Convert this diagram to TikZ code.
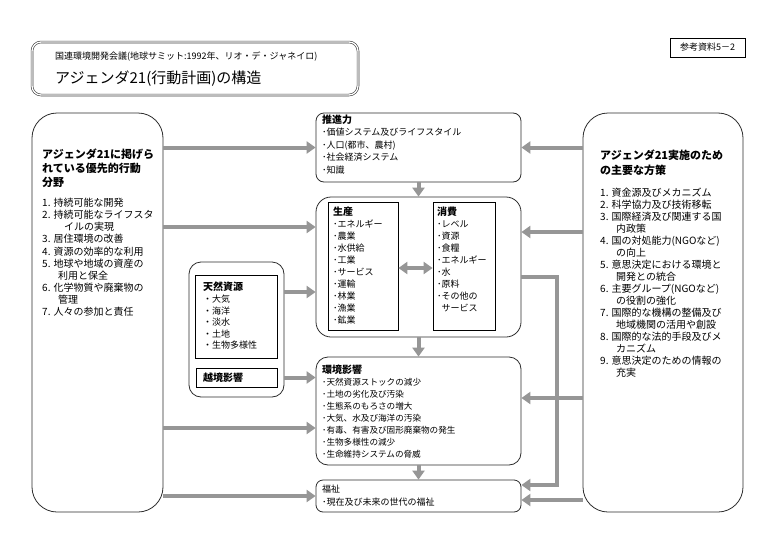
\documentclass[tikz,border=0pt]{standalone}
\usepackage{fontspec}
\setmainfont{Noto Sans CJK JP}
\usetikzlibrary{arrows.meta,positioning}
\definecolor{arrowgray}{RGB}{150,150,150}
\definecolor{boxline}{RGB}{45,45,45}

\begin{document}
\begin{tikzpicture}[x=1pt, y=-1pt,
  panel/.style={draw=boxline, line width=0.8pt, fill=white, rounded corners=#1,
                inner sep=0pt},
  panel/.default=8pt,
  inbox/.style={draw=black, line width=0.8pt, fill=white, inner sep=0pt},
  txt/.style={anchor=north west, align=left, inner sep=0pt},
  flow/.style={draw=arrowgray, line width=4pt, line join=miter,
               -{Triangle[length=9pt,width=12pt]}},
  both/.style={draw=arrowgray, line width=4pt,
               {Triangle[length=9pt,width=12pt]}-{Triangle[length=9pt,width=12pt]}}
]
  \useasboundingbox[fill=white] (0,0) rectangle (779,546);

  % header
  \node[draw=black!75, double=white, double distance=1.3pt, line width=0.6pt,
        rounded corners=9pt, minimum width=326pt, minimum height=53pt]
    (head) at (195,68.5) {};
  \node[anchor=west, inner sep=0pt, font=\fontsize{9}{11}\selectfont]
    (head1) at (55,57) {国連環境開発会議(地球サミット:1992年、リオ・デ・ジャネイロ)};
  \node[anchor=west, inner sep=0pt, font=\fontsize{15}{18}\selectfont]
    (head2) at (55,79) {アジェンダ21(行動計画)の構造};
  \node[draw=black, line width=0.8pt, minimum width=75pt, minimum height=19pt,
        inner sep=0pt, font=\fontsize{9}{11}\selectfont]
    (ref) at (707.5,47.5) {参考資料5－2};

  % boxes
  \node[panel=25pt, minimum width=131pt, minimum height=399pt] (agenda) at (97.5,312.5) {};
  \node[panel=25pt, minimum width=160pt, minimum height=399pt] (means) at (663,312.5) {};
  \node[panel=8pt, minimum width=205pt, minimum height=69pt] (drive) at (418.5,147.5) {};
  \node[panel=15pt, minimum width=205pt, minimum height=140pt] (pc) at (418.5,267) {};
  \node[inbox, minimum width=70pt, minimum height=128pt] (prod) at (363,266) {};
  \node[inbox, minimum width=62pt, minimum height=128pt] (cons) at (464,266) {};
  \node[panel=12pt, minimum width=95pt, minimum height=135pt] (natres) at (236.5,329.5) {};
  \node[inbox, minimum width=82pt, minimum height=83pt] (natin) at (236,316.5) {};
  \node[inbox, minimum width=81pt, minimum height=19pt] (trans) at (236.5,377.5) {};
  \node[panel=12pt, minimum width=205pt, minimum height=108pt] (env) at (418.5,411) {};
  \node[panel=7pt, minimum width=205pt, minimum height=32pt] (welfare) at (418.5,496) {};

  % texts
  \node[txt, font=\fontsize{11}{14}\selectfont\bfseries] (t0) at (42,149)
    {アジェンダ21に掲げら\\れている優先的行動\\分野};
  \node[txt, font=\fontsize{10}{12.1}\selectfont] (t1) at (42,198)
    {1. 持続可能な開発\\
     2. 持続可能なライフスタ\\\hspace*{2.2em}イルの実現\\
     3. 居住環境の改善\\
     4. 資源の効率的な利用\\
     5. 地球や地域の資産の\\\hspace*{1.6em}利用と保全\\
     6. 化学物質や廃棄物の\\\hspace*{1.6em}管理\\
     7. 人々の参加と責任};
  \node[txt, font=\fontsize{11}{15}\selectfont\bfseries] (t2) at (600,149.5)
    {アジェンダ21実施のため\\の主要な方策};
  \node[txt, font=\fontsize{10}{12}\selectfont] (t3) at (600,188)
    {1. 資金源及びメカニズム\\
     2. 科学協力及び技術移転\\
     3. 国際経済及び関連する国\\\hspace*{1.6em}内政策\\
     4. 国の対処能力(NGOなど)\\\hspace*{1.6em}の向上\\
     5. 意思決定における環境と\\\hspace*{1.6em}開発との統合\\
     6. 主要グループ(NGOなど)\\\hspace*{1.6em}の役割の強化\\
     7. 国際的な機構の整備及び\\\hspace*{1.6em}地域機関の活用や創設\\
     8. 国際的な法的手段及びメ\\\hspace*{1.6em}カニズム\\
     9. 意思決定のための情報の\\\hspace*{1.6em}充実};
  \node[txt, font=\fontsize{9}{12.5}\selectfont] (t4) at (322,114.5)
    {{\fontsize{10}{12}\selectfont\bfseries 推進力}\\
     ･価値システム及びライフスタイル\\
     ･人口(都市、農村)\\
     ･社会経済システム\\
     ･知識};
  \node[txt, font=\fontsize{9}{12}\selectfont] (t5) at (333,207)
    {{\fontsize{10}{12}\selectfont\bfseries 生産}\\
     ･エネルギー\\ ･農業\\ ･水供給\\ ･工業\\ ･サービス\\
     ･運輸\\ ･林業\\ ･漁業\\ ･鉱業};
  \node[txt, font=\fontsize{9}{12}\selectfont] (t6) at (437,207)
    {{\fontsize{10}{12}\selectfont\bfseries 消費}\\
     ･レベル\\ ･資源\\ ･食糧\\ ･エネルギー\\ ･水\\ ･原料\\
     ･その他の\\\hspace*{0.5em}サービス};
  \node[txt, font=\fontsize{9}{11.6}\selectfont] (t7) at (203,282)
    {{\fontsize{10}{12}\selectfont\bfseries 天然資源}\\
     ・大気\\ ・海洋\\ ・淡水\\ ・土地\\ ・生物多様性};
  \node[anchor=west, inner sep=0pt, font=\fontsize{10}{12}\selectfont\bfseries]
    (t8) at (203,378) {越境影響};
  \node[txt, font=\fontsize{8.6}{11.9}\selectfont] (t9) at (322,365)
    {{\fontsize{10}{12}\selectfont\bfseries 環境影響}\\
     ･天然資源ストックの減少\\
     ･土地の劣化及び汚染\\
     ･生態系のもろさの増大\\
     ･大気、水及び海洋の汚染\\
     ･有毒、有害及び固形廃棄物の発生\\
     ･生物多様性の減少\\
     ･生命維持システムの脅威};
  \node[txt, font=\fontsize{9}{12.5}\selectfont] (t10) at (322,485)
    {福祉\\ ･現在及び未来の世代の福祉};

  % connectors
  \coordinate (bend) at (557,485);
  \draw[flow] (agenda.east |- drive.west) -- (drive.west);
  \draw[flow] (agenda.east |- 0,227) -- (pc.west |- 0,227);
  \draw[flow] (agenda.east |- 0,428) -- (env.west |- 0,428);
  \draw[flow] (agenda.east |- welfare.west) -- (welfare.west);
  \draw[flow] (means.west |- drive.east) -- (drive.east);
  \draw[flow] (means.west |- 0,232) -- (pc.east |- 0,232);
  \draw[flow] (pc.east |- 0,277) -| (bend) -- (welfare.east |- bend);
  \draw[flow] (means.west |- 0,398) -- (env.east |- 0,398);
  \draw[flow] (means.west |- 0,500) -- (welfare.east |- 0,500);
  \draw[flow] (drive.south) -- (pc.north);
  \draw[flow] (pc.south) -- (env.north);
  \draw[flow] (env.south) -- (welfare.north);
  \draw[both] (prod.east |- 0,268) -- (cons.west |- 0,268);
  \draw[flow] (natres.east |- 0,292) -- (pc.west |- 0,292);
  \draw[flow] (natres.east |- trans.east) -- (env.west |- trans.east);
\end{tikzpicture}
\end{document}
